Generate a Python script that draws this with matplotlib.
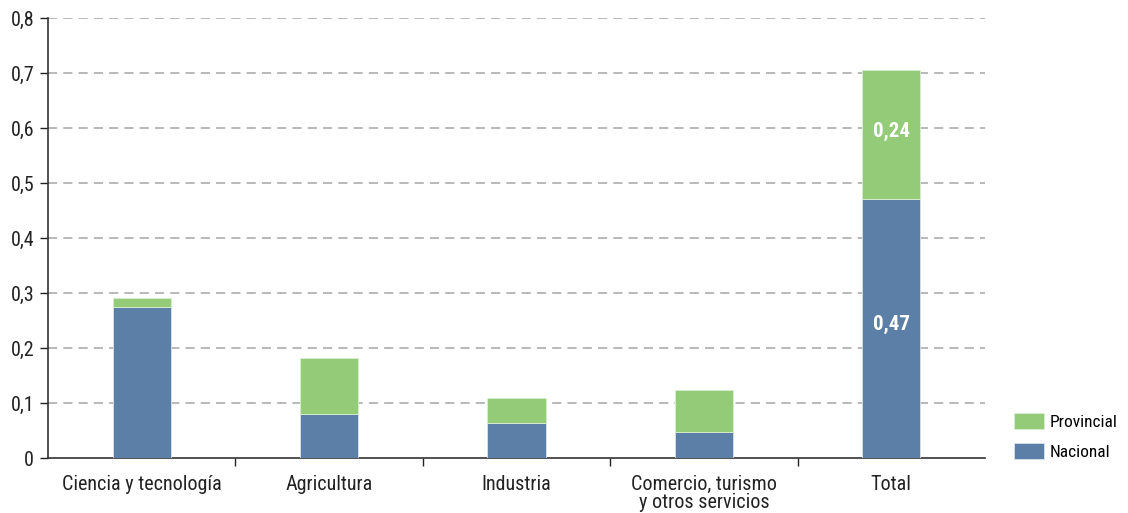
import matplotlib
matplotlib.use("Agg")
import matplotlib.pyplot as plt
from matplotlib import font_manager
import numpy as np

categories = ["Ciencia y tecnología", "Agricultura", "Industria",
              "Comercio, turismo\ny otros servicios", "Total"]
nacional = [0.275, 0.08, 0.064, 0.047, 0.47]
provincial = [0.016, 0.102, 0.045, 0.077, 0.235]
yticks = [0, 0.1, 0.2, 0.3, 0.4, 0.5, 0.6, 0.7, 0.8]
ytick_labels = ["0", "0,1", "0,2", "0,3", "0,4", "0,5", "0,6", "0,7", "0,8"]

names = {f.name for f in font_manager.fontManager.ttflist}
fam = [f for f in ["Liberation Sans Narrow", "Roboto Condensed", "Roboto"] if f in names] + ["DejaVu Sans"]
plt.rcParams['font.family'] = fam

blue = "#5B7FA6"
green = "#93CB78"

fig = plt.figure(figsize=(11.28, 5.13), dpi=100)
ax = fig.add_axes([0.0426, 0.1072, 0.8306, 0.8578])

x = np.arange(len(categories))
w = 0.31
ax.bar(x, nacional, width=w, color=blue, edgecolor="#d8e2ec", linewidth=0.6, label="Nacional", zorder=3)
ax.bar(x, provincial, width=w, bottom=nacional, color=green, edgecolor="#d8efcf", linewidth=0.6,
       label="Provincial", zorder=3)

# labels on total bar
ax.text(x[-1], nacional[-1] / 2 + 0.008, "0,47", ha="center", va="center", color="white",
        fontsize=15, fontweight="bold", zorder=4)
ax.text(x[-1], nacional[-1] + provincial[-1] / 2 + 0.006, "0,24", ha="center", va="center", color="white",
        fontsize=15, fontweight="bold", zorder=4)

ax.set_xlim(-0.5, len(categories) - 0.5)
ax.set_ylim(0, 0.8)
ax.set_yticks(yticks)
ax.set_yticklabels(ytick_labels, fontsize=14.5, color="#222222")
for yv in yticks[1:]:
    ax.axhline(yv, color="#a6a6a6", linestyle=(0, (6, 4)), linewidth=1.1, zorder=1)

ax.set_xticks(x)
ax.set_xticklabels(categories, fontsize=14.5, color="#222222", linespacing=0.95)
ax.tick_params(axis="x", length=0, pad=12)
ax.set_xticks(np.arange(0.5, len(categories) - 0.5, 1), minor=True)
ax.tick_params(axis="x", which="minor", length=6, width=1, color="#222222")
ax.tick_params(axis="y", length=6, width=1, color="#222222", pad=4)

for s in ["top", "right"]:
    ax.spines[s].set_visible(False)
for s in ["left", "bottom"]:
    ax.spines[s].set_color("#333333")
    ax.spines[s].set_linewidth(1.2)

handles, labels = ax.get_legend_handles_labels()
leg = fig.legend(handles[::-1], labels[::-1], loc="lower left", bbox_to_anchor=(0.8925, 0.09),
                 frameon=False, fontsize=12.5, handlelength=1.75, handleheight=1.05,
                 labelspacing=0.75, handletextpad=0.3, borderaxespad=0)

fig.savefig("out.png", dpi=100)
